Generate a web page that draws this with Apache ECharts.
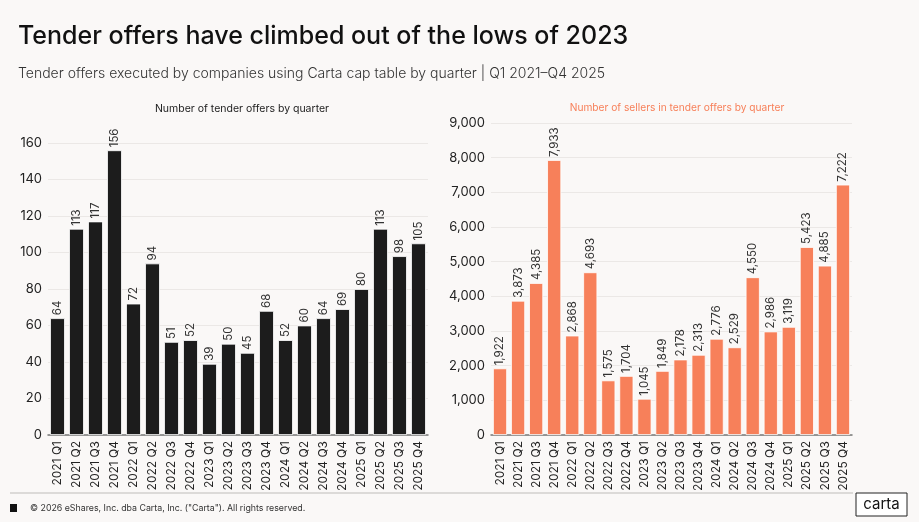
<!DOCTYPE html>
<html><head><meta charset="utf-8">
<script src="https://cdn.jsdelivr.net/npm/echarts@6/dist/echarts.min.js"></script>
<style>html,body{margin:0;padding:0;background:#faf8f7;}#c{width:919px;height:522px;}</style>
</head><body><div id="c"></div>
<script>
const categories = ["2021 Q1","2021 Q2","2021 Q3","2021 Q4","2022 Q1","2022 Q2","2022 Q3","2022 Q4","2023 Q1","2023 Q2","2023 Q3","2023 Q4","2024 Q1","2024 Q2","2024 Q3","2024 Q4","2025 Q1","2025 Q2","2025 Q3","2025 Q4"];
const tenderOffers = [64,113,117,156,72,94,51,52,39,50,45,68,52,60,64,69,80,113,98,105];
const sellers = [1922,3873,4385,7933,2868,4693,1575,1704,1045,1849,2178,2313,2776,2529,4550,2986,3119,5423,4885,7222];

const FONT = 'Inter, "Noto Sans", sans-serif';
const chart = echarts.init(document.getElementById('c'));
const fmt = v => v.toLocaleString('en-US');

function xAxis(idx){
  return {type:'category', gridIndex:idx, data:categories,
    axisLine:{lineStyle:{color:'#777', width:1.5}}, axisTick:{show:false},
    axisLabel:{rotate:90, fontSize:12, color:'#222', fontFamily:FONT, margin:6, interval:0}};
}
function yAxis(idx, max, interval, formatter){
  return {type:'value', gridIndex:idx, min:0, max:max, interval:interval,
    axisLine:{show:false}, axisTick:{show:false},
    splitLine:{lineStyle:{color:'#ebe8e6', width:1}},
    axisLabel:{fontSize:13, color:'#222', fontFamily:FONT, margin:6, formatter:formatter}};
}
function label(){
  return {show:true, position:'top', rotate:90, align:'left', verticalAlign:'middle', distance:3,
    fontSize:11.5, color:'#333', fontFamily:FONT, formatter:p=>fmt(p.value)};
}

chart.setOption({
  backgroundColor:'#faf8f7',
  animation:false,
  title:[
    {text:'Tender offers have climbed out of the lows of 2023', left:13, top:19,
      textStyle:{fontSize:25, fontWeight:500, color:'#111', fontFamily:FONT}},
    {text:'Tender offers executed by companies using Carta cap table by quarter | Q1 2021–Q4 2025', left:13, top:62,
      textStyle:{fontSize:14, fontWeight:300, color:'#333', fontFamily:FONT}},
    {text:'Number of tender offers by quarter', left:237, textAlign:'center', top:98,
      textStyle:{fontSize:10.5, fontWeight:400, color:'#222', fontFamily:FONT}},
    {text:'Number of sellers in tender offers by quarter', left:672, textAlign:'center', top:98,
      textStyle:{fontSize:10.2, fontWeight:400, color:'#f7805a', fontFamily:FONT}}
  ],
  grid:[
    {left:48, right:491, top:143, bottom:87},
    {left:491, right:67, top:123, bottom:87}
  ],
  xAxis:[xAxis(0), xAxis(1)],
  yAxis:[yAxis(0,160,20), yAxis(1,9000,1000,v=>fmt(v))],
  series:[
    {type:'bar', xAxisIndex:0, yAxisIndex:0, data:tenderOffers, barCategoryGap:'22%',
      itemStyle:{color:'#1c1c1c', borderColor:'#ffffff', borderWidth:0.8}, label:label()},
    {type:'bar', xAxisIndex:1, yAxisIndex:1, data:sellers, barCategoryGap:'22%',
      itemStyle:{color:'#f7805a', borderColor:'#ffffff', borderWidth:0.8}, label:label()}
  ],
  graphic:[
    {type:'line', shape:{x1:10, y1:493, x2:853, y2:493}, style:{stroke:'#bdbbb9', lineWidth:1.2}},
    {type:'rect', shape:{x:10, y:504, width:7, height:8}, style:{fill:'#111'}},
    {type:'text', x:30, y:508, style:{text:'© 2026 eShares, Inc. dba Carta, Inc. ("Carta"). All rights reserved.', fontSize:8.8, fill:'#333', fontFamily:FONT, verticalAlign:'middle'}},
    {type:'rect', shape:{x:856, y:493, width:51, height:23}, style:{fill:'#ffffff', stroke:'#222', lineWidth:1}},
    {type:'text', x:881.5, y:504.5, style:{text:'carta', fontSize:15, fill:'#111', fontFamily:FONT, align:'center', verticalAlign:'middle'}}
  ]
});
</script></body></html>
